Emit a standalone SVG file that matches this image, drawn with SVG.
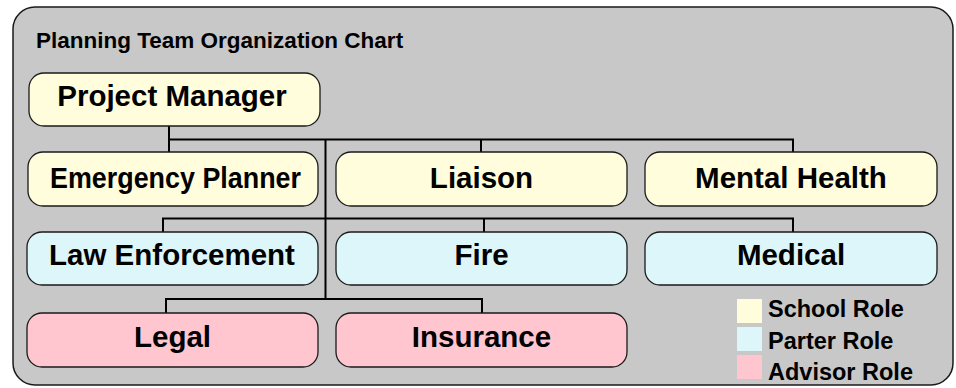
<svg xmlns="http://www.w3.org/2000/svg" width="956" height="388" viewBox="0 0 956 388">
  <style>
    .frame { fill: #c8c8c8; stroke: #1a1a1a; stroke-width: 1.5; }
    .node { stroke: #1a1a1a; stroke-width: 1.3; }
    .school { fill: #fffddc; }
    .partner { fill: #ddf6fa; }
    .advisor { fill: #ffc6cf; }
    .label { font-family: "Liberation Sans", Arial, sans-serif; font-weight: 700; fill: #000; }
    .nodetext { font-size: 29.5px; text-anchor: middle; }
    .title { font-size: 22.5px; }
    .legend { font-size: 23.5px; }
    .conn { fill: none; stroke: #000; stroke-width: 2; }
  </style>
  <rect class="frame" x="13" y="7" width="940" height="378" rx="22" ry="22"/>
  <text class="label title" x="36" y="48">Planning Team Organization Chart</text>

  <g id="connectors">
    <path class="conn" d="M169 126 V152"/>
    <path class="conn" d="M169 139.5 H793 V152"/>
    <path class="conn" d="M481 139.5 V152"/>
    <path class="conn" d="M325.5 139.5 V299"/>
    <path class="conn" d="M163 232 V218.5 H793 V232"/>
    <path class="conn" d="M484 218.5 V232"/>
    <path class="conn" d="M166 313 V299 H482 V313"/>
  </g>

  <g id="project-manager">
    <rect class="node school" x="29" y="73" width="291" height="53" rx="15"/>
    <text class="label nodetext" x="172" y="106">Project Manager</text>
  </g>
  <g id="emergency-planner">
    <rect class="node school" x="28" y="152" width="290" height="54" rx="15"/>
    <text class="label nodetext" x="175.5" y="188" textLength="251" lengthAdjust="spacingAndGlyphs">Emergency Planner</text>
  </g>
  <g id="liaison">
    <rect class="node school" x="336" y="152" width="291" height="54" rx="15"/>
    <text class="label nodetext" x="481.5" y="188">Liaison</text>
  </g>
  <g id="mental-health">
    <rect class="node school" x="645" y="152" width="292" height="54" rx="15"/>
    <text class="label nodetext" x="791" y="188">Mental Health</text>
  </g>
  <g id="law-enforcement">
    <rect class="node partner" x="27" y="232" width="291" height="53" rx="15"/>
    <text class="label nodetext" x="172" y="265">Law Enforcement</text>
  </g>
  <g id="fire">
    <rect class="node partner" x="336" y="232" width="291" height="53" rx="15"/>
    <text class="label nodetext" x="481.5" y="265">Fire</text>
  </g>
  <g id="medical">
    <rect class="node partner" x="645" y="232" width="292" height="53" rx="15"/>
    <text class="label nodetext" x="791" y="265">Medical</text>
  </g>
  <g id="legal">
    <rect class="node advisor" x="27" y="313" width="291" height="54" rx="15"/>
    <text class="label nodetext" x="172.5" y="347">Legal</text>
  </g>
  <g id="insurance">
    <rect class="node advisor" x="336" y="313" width="291" height="54" rx="15"/>
    <text class="label nodetext" x="481.5" y="347">Insurance</text>
  </g>

  <g id="legend">
    <rect class="school" x="737" y="299" width="25" height="24"/>
    <text class="label legend" x="768" y="317">School Role</text>
    <rect class="partner" x="737" y="327" width="25" height="24"/>
    <text class="label legend" x="768" y="349">Parter Role</text>
    <rect class="advisor" x="737" y="355" width="25" height="24"/>
    <text class="label legend" x="768" y="380">Advisor Role</text>
  </g>
</svg>
